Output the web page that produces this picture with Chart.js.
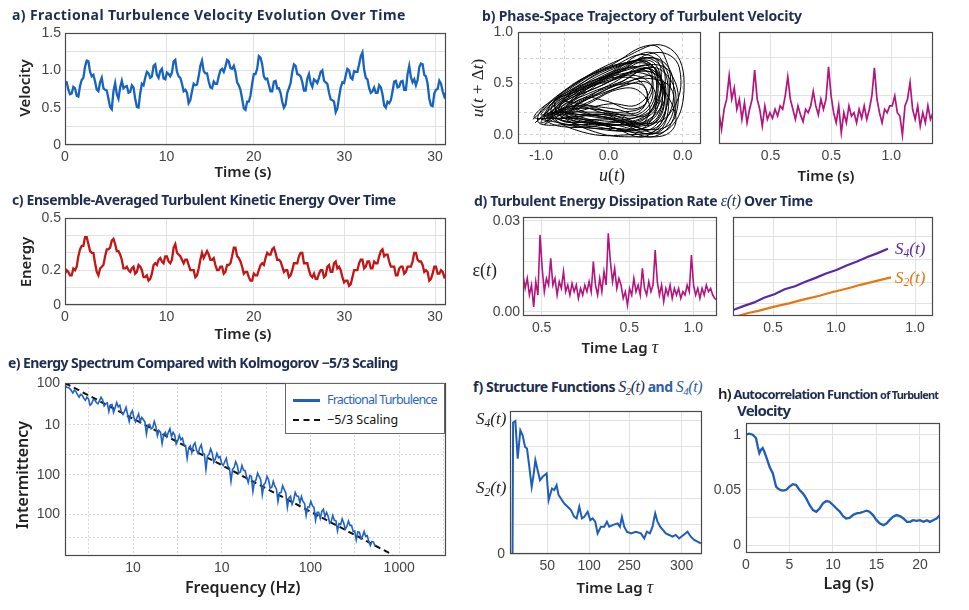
<!DOCTYPE html>
<html><head><meta charset="utf-8">
<script src="https://cdn.jsdelivr.net/npm/chart.js@4.4.1/dist/chart.umd.min.js"></script>
<style>
html,body{margin:0;padding:0;background:#fff;}
#root{position:relative;width:969px;height:610px;overflow:hidden;font-family:"Noto Sans",sans-serif;}
canvas{position:absolute;}
.t{position:absolute;white-space:nowrap;line-height:20px;height:20px;}
.m{font-family:"Liberation Serif","DejaVu Serif",serif;font-style:italic;}
.m sub{font-size:0.68em;vertical-align:-0.25em;line-height:0;}
</style></head><body><div id="root"></div>
<script>
// ---------------- DATA ----------------
// a) velocity time series (time 0..31.5 s)
const velocity = [0.85,0.84,0.74,0.68,0.69,0.78,0.76,0.66,0.65,0.79,0.87,0.90,1.05,1.13,1.12,0.98,0.92,0.94,0.85,0.74,0.72,0.84,0.90,0.76,0.74,0.73,0.62,0.51,0.48,0.72,0.83,0.68,0.62,0.77,0.86,0.76,0.78,0.79,0.70,0.71,0.80,0.77,0.62,0.51,0.50,0.69,0.82,0.80,0.90,0.98,0.96,0.90,0.92,1.06,1.08,0.94,0.90,0.99,1.02,0.89,0.88,0.97,0.95,0.92,0.97,1.12,1.14,0.98,0.92,0.90,0.82,0.72,0.74,0.70,0.56,0.60,0.72,0.82,0.80,0.81,0.92,1.06,1.13,0.99,0.96,0.96,0.85,0.77,0.76,0.85,0.82,0.82,0.92,1.00,1.02,0.98,1.05,1.14,1.12,1.03,1.02,1.06,0.98,0.84,0.80,0.74,0.62,0.49,0.47,0.58,0.58,0.66,0.82,0.95,0.95,1.02,1.19,1.17,1.08,0.92,0.88,0.89,0.80,0.72,0.72,0.85,0.86,0.76,0.76,0.70,0.58,0.50,0.54,0.70,0.76,0.83,0.98,1.08,1.06,0.95,0.94,0.92,0.84,0.73,0.73,0.89,0.95,0.83,0.78,0.88,0.86,0.83,0.90,0.98,1.00,0.86,0.84,0.82,0.70,0.61,0.60,0.58,0.44,0.49,0.64,0.77,0.84,0.83,0.93,1.02,1.00,0.90,0.88,0.99,0.98,0.98,1.08,1.19,1.24,1.01,0.90,0.88,0.76,0.70,0.72,0.77,0.70,0.70,0.80,0.77,0.68,0.53,0.50,0.58,0.56,0.60,0.72,0.85,0.86,0.77,0.78,0.85,0.86,0.74,0.74,0.95,1.06,0.91,0.84,0.88,0.80,0.87,1.04,1.09,1.08,0.94,0.92,0.82,0.62,0.53,0.52,0.69,0.74,0.75,0.86,0.82,0.72,0.65,0.70];
// c) energy time series
const energy = [0.18,0.20,0.19,0.17,0.17,0.21,0.20,0.22,0.28,0.32,0.34,0.34,0.39,0.39,0.35,0.31,0.30,0.30,0.24,0.19,0.17,0.21,0.22,0.23,0.28,0.32,0.32,0.33,0.37,0.38,0.35,0.31,0.31,0.29,0.26,0.21,0.21,0.22,0.20,0.19,0.21,0.22,0.18,0.19,0.23,0.22,0.20,0.16,0.16,0.17,0.14,0.15,0.18,0.23,0.24,0.23,0.26,0.27,0.25,0.24,0.28,0.28,0.25,0.24,0.26,0.33,0.35,0.30,0.29,0.28,0.26,0.24,0.26,0.26,0.23,0.20,0.20,0.20,0.16,0.17,0.21,0.26,0.30,0.27,0.29,0.31,0.29,0.26,0.26,0.27,0.23,0.20,0.20,0.22,0.22,0.18,0.19,0.23,0.23,0.24,0.28,0.33,0.33,0.28,0.27,0.25,0.22,0.18,0.19,0.19,0.16,0.14,0.14,0.18,0.17,0.17,0.20,0.23,0.24,0.23,0.27,0.30,0.29,0.29,0.32,0.33,0.30,0.26,0.26,0.25,0.22,0.19,0.20,0.20,0.16,0.17,0.20,0.24,0.24,0.24,0.28,0.30,0.30,0.24,0.24,0.24,0.20,0.17,0.16,0.18,0.15,0.15,0.18,0.20,0.20,0.16,0.17,0.22,0.23,0.19,0.19,0.24,0.25,0.21,0.22,0.20,0.16,0.13,0.14,0.14,0.11,0.12,0.16,0.20,0.20,0.20,0.24,0.26,0.26,0.21,0.22,0.25,0.25,0.21,0.21,0.25,0.24,0.24,0.28,0.31,0.32,0.28,0.29,0.29,0.25,0.22,0.22,0.22,0.17,0.17,0.21,0.22,0.22,0.18,0.19,0.22,0.22,0.22,0.25,0.30,0.30,0.26,0.25,0.25,0.23,0.19,0.20,0.19,0.14,0.15,0.18,0.22,0.22,0.18,0.18,0.20,0.19,0.16,0.17];
const timeSpan = 31.5;
const timeTickPos = [0, 8.4, 15.6, 23.1, 30.6];
const timeTickLabels = ["0","10","20","30","30"];

// b) phase-space trajectory [u(t), u(t+dt)]
const phaseTrajectory = [
[-1.12,0.15],[-0.6,0.45],[0.2,0.74],[0.85,0.86],[1.12,0.5],[0.85,0.04],[0.2,0.1],[-0.7,0.08],
[-0.95,0.2],[-0.4,0.5],[0.3,0.7],[0.75,0.72],[0.9,0.4],[0.7,0.02],[0.0,0.15],[-0.6,0.12],
[-0.8,0.22],[-0.3,0.45],[0.2,0.62],[0.6,0.7],[0.8,0.35],[0.5,0.1],[-0.1,0.2],[-0.6,0.18],
[-0.6,0.3],[-0.2,0.5],[0.2,0.56],[0.5,0.5],[0.55,0.3],[0.2,0.22],[-0.2,0.25],[-0.5,0.25],
[-1.0,0.12],[-0.5,0.4],[0.1,0.6],[0.65,0.75],[0.95,0.55],[0.8,0.1],[0.3,0.0],[-0.5,0.05],
[-0.85,0.25],[-0.35,0.55],[0.25,0.7],[0.7,0.68],[0.7,0.3],[0.3,0.15],[-0.3,0.15],[-0.7,0.2],
[-0.7,0.3],[-0.2,0.45],[0.4,0.62],[0.8,0.62],[1.0,0.3],[0.75,0.0],[0.2,0.05],[-0.4,0.15],
[-0.9,0.18],[-0.5,0.35],[-0.1,0.55],[0.45,0.72],[0.65,0.55],[0.45,0.3],[0.0,0.3],[-0.5,0.22],
[-0.75,0.2],[-0.3,0.38],[0.15,0.5],[0.55,0.62],[0.85,0.45],[0.6,0.15],[0.1,0.12],[-0.45,0.1],
[-1.05,0.14],[-0.55,0.48],[0.05,0.66],[0.55,0.78],[0.78,0.62],[0.6,0.2],[0.1,0.25],[-0.4,0.3],
[-0.65,0.35],[-0.25,0.52],[0.3,0.65],[0.62,0.58],[0.6,0.35],[0.35,0.25],[-0.05,0.33],[-0.4,0.35],
[-0.95,0.1],[-0.45,0.3],[0.0,0.48],[0.5,0.6],[0.9,0.35],[0.95,0.05],[0.45,-0.02],[-0.3,0.05],
[-0.8,0.28],[-0.4,0.42],[0.1,0.58],[0.7,0.8],[1.05,0.65],[0.9,0.2],[0.4,0.1],[-0.2,0.12],
[-0.7,0.15],[-0.3,0.3],[0.2,0.45],[0.5,0.4],[0.6,0.2],[0.3,0.05],[-0.2,0.08],[-0.55,0.12],
[-0.9,0.22],[-0.45,0.5],[0.15,0.68],[0.6,0.7],[0.72,0.45],[0.55,0.08],[0.05,0.1],[-0.6,0.15],
[-0.78,0.26],[-0.3,0.48],[0.25,0.6],[0.68,0.62],[0.85,0.25],[0.62,0.05],[0.1,0.18],[-0.5,0.2],
[-0.6,0.22],[-0.15,0.4],[0.3,0.52],[0.7,0.55],[0.75,0.2],[0.4,0.08],[-0.1,0.18],[-0.85,0.16],
[-1.1,0.18],[-0.65,0.4],[0.0,0.58],[0.5,0.66],[0.8,0.5],[0.7,0.12],[0.2,0.15],[-0.35,0.22],
[-0.55,0.32],[-0.1,0.48],[0.35,0.58],[0.65,0.45],[0.5,0.22],[0.1,0.2],[-0.3,0.28],[-0.75,0.24],
[-0.92,0.16],[-0.4,0.38],[0.2,0.65],[0.62,0.74],[0.88,0.48],[0.68,0.08],[0.15,0.06],[-0.65,0.1],
[-0.85,0.2],[-0.45,0.42],[0.05,0.6],[0.55,0.8],[0.8,0.7],[0.75,0.3],[0.35,0.12],[-0.3,0.12],
[-0.7,0.25],[-0.3,0.4],[0.2,0.52],[0.6,0.64],[0.7,0.4],[0.45,0.18],[0.0,0.2],[-0.5,0.28],
[-0.95,0.18],[-0.5,0.45],[0.1,0.7],[0.6,0.87],[0.82,0.78],[0.9,0.4],[0.6,0.0],[0.0,0.08],
[-0.6,0.18],[-0.2,0.35],[0.25,0.48],[0.6,0.5],[0.68,0.3],[0.4,0.14],[-0.05,0.16],[-0.75,0.22],
[-1.0,0.2],[-0.55,0.42],[-0.05,0.52],[0.45,0.62],[0.75,0.55],[0.8,0.25],[0.5,0.06],[-0.1,0.1],
[-0.8,0.3],[-0.35,0.45],[0.15,0.55],[0.55,0.68],[0.92,0.6],[1.0,0.2],[0.7,0.05],[0.1,0.15],
[-0.5,0.26],[-0.1,0.42],[0.3,0.5],[0.55,0.45],[0.5,0.25],[0.2,0.2],[-0.2,0.22],[-0.88,0.2],
[-1.08,0.12],[-0.6,0.38],[0.0,0.62],[0.5,0.7],[0.72,0.6],[0.62,0.22],[0.25,0.1],[-0.45,0.18],
[-0.72,0.28],[-0.28,0.5],[0.22,0.62],[0.65,0.66],[0.78,0.45],[0.55,0.12],[0.05,0.22],[-0.6,0.25],
[-0.9,0.15],[-0.4,0.32],[0.1,0.45],[0.55,0.55],[0.95,0.42],[0.8,0.05],[0.3,0.03],[-0.4,0.08],
[-1.0,0.15]];
const phaseXTicks = [-1.0, -0.65, 0.0, 0.46, 1.1];
const phaseXLabels = ["-1.0","","0.0","","0.0"];
const phaseYTicks = [0, 0.22, 0.5, 0.74, 1.0];
const phaseYLabels = ["0.0","","0.5","","1.0"];
// b) right: velocity signal
const signalB = [0.28,0.13,0.31,0.40,0.61,0.40,0.50,0.31,0.40,0.22,0.37,0.19,0.31,0.40,0.66,0.40,0.31,0.16,0.34,0.22,0.28,0.23,0.31,0.25,0.34,0.31,0.43,0.60,0.40,0.31,0.22,0.34,0.26,0.20,0.31,0.28,0.34,0.47,0.34,0.26,0.40,0.31,0.40,0.69,0.43,0.28,0.19,0.34,0.10,0.28,0.19,0.34,0.25,0.28,0.19,0.31,0.23,0.34,0.22,0.31,0.43,0.68,0.40,0.28,0.19,0.31,0.28,0.34,0.34,0.43,0.28,0.25,0.08,0.34,0.40,0.55,0.31,0.22,0.34,0.16,0.28,0.19,0.34,0.22,0.28];
const signalBTicks = [0.241, 0.525, 0.805];
const signalBLabels = ["0.5","0.5","1.0"];

// d) dissipation rate
const epsilon = [0.0121,0.0077,0.011,0.0055,0.0088,0.0016,0.0099,0.0055,0.0253,0.0143,0.0066,0.011,0.0088,0.0176,0.0088,0.011,0.0055,0.0099,0.0077,0.0132,0.0066,0.0088,0.0055,0.0093,0.0066,0.0088,0.0044,0.0077,0.0055,0.0088,0.0066,0.0099,0.0066,0.0165,0.0088,0.0055,0.011,0.0066,0.0132,0.0088,0.0258,0.0165,0.0099,0.0143,0.0077,0.011,0.0088,0.0044,0.0066,0.0022,0.0077,0.0055,0.011,0.0066,0.0088,0.0055,0.0143,0.0077,0.0055,0.0099,0.0066,0.0088,0.0203,0.0099,0.0055,0.0088,0.0033,0.0077,0.0055,0.0088,0.0044,0.0077,0.0055,0.0077,0.0044,0.0066,0.0055,0.0088,0.0066,0.0187,0.0088,0.0055,0.0077,0.0044,0.0077,0.0055,0.0088,0.0066,0.0077,0.0055,0.0044,0.0038];
const epsXTicks = [0.096, 0.548, 0.878];
const epsXLabels = ["0.5","0.5","1.0"];
const epsYTicks = [0, 0.0097, 0.0165, 0.024, 0.03];
const epsYLabels = ["0.00","","","","0.03"];
// d) right: S4, S2 growth
const s4Lag = [0,0.052,0.103,0.155,0.207,0.258,0.31,0.362,0.413,0.465,0.517,0.568,0.62,0.672,0.723,0.775];
const s4Val = [0.06,0.10,0.135,0.185,0.22,0.27,0.30,0.345,0.385,0.43,0.465,0.51,0.55,0.595,0.635,0.68];
const s2Lag = [0.025,0.076,0.127,0.178,0.229,0.28,0.331,0.382,0.433,0.484,0.535,0.586,0.637,0.688,0.739,0.79];
const s2Val = [0.0,0.03,0.052,0.08,0.105,0.128,0.155,0.18,0.205,0.235,0.26,0.285,0.315,0.34,0.365,0.39];
const sXTicks = [0.2, 0.515, 0.91];
const sXLabels = ["0.5","1.0","1.0"];
const sYTicks = [0.13, 0.34, 0.57, 0.8];

// e) energy spectrum
const spectrum = [89,70,69,64,54,44,55,50,38,31,39,36,28,24,31,27,16,18,25,25,20,18,23,31,25,15,18,19.6,9.5,16.5,17,8.9,13,20,14,15.8,9.1,7.5,9.6,13.4,7.3,4.2,8.0,10.2,5.8,4.1,5.8,7.8,4.1,5.8,4.9,4.1,1.5,3.1,3.3,2.3,2.5,4.2,2.8,1.3,2.0,1.7,0.67,1.4,1.7,1.2,1.7,2.3,1.2,1.7,1.4,0.66,0.86,1.33,0.92,1.05,0.61,0.56,0.20,0.47,0.56,0.32,0.59,0.72,0.39,0.30,0.47,0.61,0.31,0.28,0.080,0.24,0.28,0.44,0.31,0.146,0.19,0.30,0.21,0.23,0.13,0.11,0.15,0.20,0.105,0.09,0.030,0.08,0.094,0.15,0.11,0.059,0.064,0.11,0.074,0.073,0.042,0.027,0.048,0.045,0.013,0.029,0.034,0.059,0.045,0.034,0.0099,0.023,0.027,0.045,0.034,0.017,0.018,0.030,0.020,0.016,0.0056,0.0115,0.012,0.021,0.015,0.0115,0.0035,0.0077,0.0088,0.0045,0.0064,0.012,0.0089,0.0087,0.0051,0.0085,0.0056,0.0048,0.0018,0.0036,0.0036,0.0057,0.0040,0.0035,0.0012,0.0023,0.0023,0.0014,0.0025,0.0030,0.0016,0.0023,0.0017,0.00096,0.0011,0.0018,0.0012,0.00116,0.00050,0.00091,0.00084,0.00135,0.00096,0.00058,0.00072,0.00113,0.00079,0.00079,0.00047,0.00050,0.00024,0.00046,0.00045,0.00027,0.00032,0.00048,0.00032,0.00034,0.00021,0.00015,0.00021,0.00020,0.00014];
const specFreqMinLog = 0.233, specFreqMaxLog = 3.728;
const kolmoFreq = [1.71, 8500];
const kolmoVal = [100, 6.9e-5];
const specXTicks = [3.162,10,31.62,100,316.2,1000,3162,10000,31623];
const specXLabels = ["","10","","10","","100","","1000",""];
const specYTicks = [0.00028,0.002,0.0505,0.263,3.13,100];
const specYLabels = ["","100","100","","10","100"];

// f) structure function
const structLag = [4.5,5.5,9.5,13.6,18.3,22.4,26.6,30.1,34.2,38.4,41.3,44.9,49,53.1,57.8,64.9,68.4,74.3,78.4,82.5,86.1,90.2,96.1,102,107.9,113.8,118,122.7,127.4,131.6,137.5,142.2,146.3,151,155.1,161,166.9,171.6,175.7,181.6,190.5,194.6,198.2,202.3,207,214.1,222.9,231.8,237.7,242.4,247.7,252.4,257.1,261.2,265.9,271.2,275.9,281.8,287.7,293.6,299.5,314.3,320.2,326.1,332,338];
const structVal = [0,0.92,0.93,0.667,0.865,0.83,0.749,0.737,0.609,0.47,0.54,0.656,0.586,0.516,0.54,0.563,0.377,0.458,0.447,0.481,0.412,0.388,0.353,0.33,0.307,0.26,0.249,0.33,0.249,0.26,0.295,0.237,0.249,0.226,0.144,0.191,0.191,0.226,0.191,0.202,0.214,0.191,0.26,0.191,0.156,0.144,0.156,0.144,0.109,0.156,0.144,0.191,0.284,0.226,0.191,0.167,0.144,0.133,0.121,0.133,0.109,0.156,0.121,0.098,0.086,0.074];
const structXTicks = [66, 140, 211, 304];
const structXLabels = ["50","100","250","300"];
const structYTicks = [0, 0.207, 0.389, 0.575, 0.755, 0.937];

// h) autocorrelation
const acfLag = [0,0.38,0.77,1.15,1.35,1.54,1.73,1.92,2.1,2.3,2.5,2.7,2.88,3.08,3.27,3.46,3.65,3.92,4.23,4.6,5.0,5.38,5.77,6.15,6.54,6.92,7.3,7.7,8.08,8.46,8.85,9.23,9.6,10,10.4,10.8,11.15,11.5,11.9,12.3,12.7,13.1,13.5,13.85,14.2,14.6,15,15.4,15.8,16.15,16.5,16.9,17.3,17.7,18.1,18.5,18.85,19.2,19.6,20,20.4,20.8,21.15,21.5,21.9,22.3];
const acfVal = [1.0,1.01,1.0,0.97,0.894,0.833,0.864,0.879,0.848,0.803,0.758,0.712,0.682,0.652,0.59,0.53,0.515,0.5,0.494,0.5,0.53,0.552,0.545,0.5,0.47,0.424,0.364,0.318,0.303,0.333,0.379,0.4,0.394,0.364,0.333,0.303,0.264,0.242,0.248,0.273,0.288,0.294,0.303,0.312,0.303,0.273,0.227,0.197,0.182,0.197,0.227,0.258,0.273,0.264,0.242,0.212,0.212,0.227,0.221,0.227,0.212,0.227,0.212,0.227,0.242,0.273];
const acfYTicks = [0,0.25,0.5,0.75,1];
const acfYLabels = ["0","","0.05","","1"];

// ---------------- RENDER ----------------
const root = document.getElementById('root');
const YW = 44, PT = 14, PR = 14, XH = 26;
const framePlugin = { id:'frame', afterDraw(chart){ const {ctx, chartArea:a} = chart; ctx.save(); ctx.strokeStyle='#4a4a4a'; ctx.lineWidth=1.2; ctx.strokeRect(Math.round(a.left)+0.5, Math.round(a.top)+0.5, Math.round(a.right-a.left)-1, Math.round(a.bottom-a.top)-1); ctx.restore(); } };

function axis(s, dir){
  return {
    type: s.type || 'linear', min: s.min, max: s.max,
    afterBuildTicks: sc => { sc.ticks = s.ticks.map(v => ({value:v})); },
    afterFit: sc => { if (dir==='x') sc.height = XH; else sc.width = YW; },
    ticks: { autoSkip:false, maxRotation:0, padding: dir==='x' ? 4 : (s.pad||5), color:'#444',
      font:{family:'"Liberation Sans", Arial, sans-serif', size:14},
      callback: (v,i) => (s.labels && s.labels[i] !== undefined) ? s.labels[i] : '' },
    grid: { color: s.grid || '#e2e2e2', drawTicks:false, lineWidth:1 },
    border: { display:false, dash: s.dash || [] }
  };
}
function mk(box, datasets, xs, ys){
  const c = document.createElement('canvas');
  const W = box.r - box.l + YW + PR, H = box.b - box.t + PT + XH;
  c.width = W; c.height = H;
  c.style.left = (box.l - YW) + 'px'; c.style.top = (box.t - PT) + 'px';
  c.style.width = W + 'px'; c.style.height = H + 'px';
  root.appendChild(c);
  return new Chart(c, { type:'scatter', data:{datasets},
    options:{ responsive:false, animation:false, events:[],
      layout:{padding:{top:PT,right:PR,left:0,bottom:0}},
      plugins:{legend:{display:false}, tooltip:{enabled:false}},
      scales:{ x: axis(xs,'x'), y: axis(ys,'y') } },
    plugins:[framePlugin] });
}
function line(data, color, width, extra){
  return Object.assign({data, borderColor:color, backgroundColor:color, borderWidth:width, pointRadius:0, showLine:true, tension:0, fill:false}, extra||{});
}

// a
mk({l:65,t:33,r:446,b:145},
  [line(velocity.map((v,i)=>({x:i*timeSpan/(velocity.length-1), y:v})), '#1763c0', 2.3)],
  {min:0, max:timeSpan, ticks:timeTickPos, labels:timeTickLabels},
  {min:0, max:1.5, ticks:[0,0.25,0.5,0.75,1,1.25,1.5], labels:["0","","0.5","","1.0","","1.5"], pad:4});
// b left
mk({l:518,t:32,r:701,b:144},
  [line(phaseTrajectory.map(p=>({x:p[0], y:p[1]})), '#000', 1.0, {tension:0.45})],
  {min:-1.34, max:1.37, ticks:phaseXTicks, labels:phaseXLabels, grid:'#cfcfcf', dash:[3,3]},
  {min:-0.09, max:1.0, ticks:phaseYTicks, labels:phaseYLabels, grid:'#cfcfcf', dash:[3,3]});
// b right
mk({l:719,t:32,r:933,b:144},
  [line(signalB.map((v,i)=>({x:i/(signalB.length-1), y:v})), '#b3157d', 1.7)],
  {min:0, max:1, ticks:signalBTicks, labels:signalBLabels},
  {min:0, max:1, ticks:[0.43,0.77], labels:["",""]});
// c
mk({l:65,t:218,r:446,b:305},
  [line(energy.map((v,i)=>({x:i*timeSpan/(energy.length-1), y:v})), '#c41414', 2.3)],
  {min:0, max:timeSpan, ticks:timeTickPos, labels:timeTickLabels},
  {min:0, max:0.5, ticks:[0,0.1,0.2,0.3,0.4,0.5], labels:["0","","0.2","","","0.5"], pad:4});
// d left
mk({l:523,t:217,r:717,b:316},
  [line(epsilon.map((v,i)=>({x:i/(epsilon.length-1), y:v})), '#b3157d', 1.6)],
  {min:0, max:1, ticks:epsXTicks, labels:epsXLabels},
  {min:-0.0014, max:0.0312, ticks:epsYTicks, labels:epsYLabels, pad:3});
// d right
mk({l:733,t:217,r:933,b:316},
  [line(s4Lag.map((x,i)=>({x, y:s4Val[i]})), '#5a2aa5', 2.2),
   line(s2Lag.map((x,i)=>({x, y:s2Val[i]})), '#e8760f', 2.2)],
  {min:0, max:1, ticks:sXTicks, labels:sXLabels},
  {min:0, max:1, ticks:sYTicks, labels:["","","",""]});
// e
mk({l:65,t:383,r:446,b:556},
  [line(spectrum.map((v,i)=>({x:Math.pow(10, specFreqMinLog + i*(specFreqMaxLog-specFreqMinLog)/(spectrum.length-1)), y:v})), '#1f62c4', 1.6),
   line(kolmoFreq.map((x,i)=>({x, y:kolmoVal[i]})), '#111', 2, {borderDash:[6,4]})],
  {type:'logarithmic', min:1.71, max:33700, ticks:specXTicks, labels:specXLabels, grid:'#d6d6d6', dash:[2,2]},
  {type:'logarithmic', min:6.3e-5, max:100, ticks:specYTicks, labels:specYLabels, grid:'#d6d6d6', dash:[2,2]});
// f
mk({l:510,t:411,r:702,b:554},
  [line(structLag.map((x,i)=>({x, y:structVal[i]})), '#1f5db8', 2)],
  {min:0, max:340, ticks:structXTicks, labels:structXLabels},
  {min:0, max:1, ticks:structYTicks, labels:["0","","","","",""]});
// h
mk({l:746,t:423,r:940,b:553},
  [line(acfLag.map((x,i)=>({x, y:acfVal[i]})), '#1f5db8', 2.3)],
  {min:0, max:22.3, ticks:[0,5,10,15,20], labels:["0","5","10","15","20"]},
  {min:-0.07, max:1.106, ticks:acfYTicks, labels:acfYLabels});

// ---------------- TEXT ----------------
function txt(html, x, yc, style, mode, target){
  const d = document.createElement('div'); d.className = 't'; d.innerHTML = html;
  Object.assign(d.style, style || {});
  root.appendChild(d);
  if (target){
    const n = Math.max(1, d.textContent.length - 1);
    const ls = Math.max(-0.8, Math.min(1.5, (target - d.offsetWidth)/n));
    d.style.letterSpacing = ls + 'px';
  }
  const w = d.offsetWidth;
  d.style.top = (yc - 10) + 'px';
  d.style.left = ((mode==='c' || mode==='r') ? x - w/2 : x) + 'px';
  if (mode==='r') d.style.transform = 'rotate(-90deg)';
  return d;
}
const TS = {fontWeight:'700', fontSize:'14px', color:'#1e2d50'};
const AX = {fontWeight:'600', fontSize:'15px', color:'#222'};
txt('a) Fractional Turbulence Velocity Evolution Over Time', 12, 15, TS, 'l', 393);
txt('b) Phase-Space Trajectory of Turbulent Velocity', 482, 16, TS, 'l', 320);
txt('c) Ensemble-Averaged Turbulent Kinetic Energy Over Time', 12, 200, TS, 'l', 384);
txt('d) Turbulent Energy Dissipation Rate <span class="m" style="font-weight:400;font-size:16px">ε(t)</span> Over Time', 474, 201, TS, 'l', 339);
txt('e) Energy Spectrum Compared with Kolmogorov −5/3 Scaling', 8, 363, TS, 'l', 390);
txt('f) Structure Functions <span class="m" style="font-weight:400;font-size:16px">S<sub>2</sub>(t)</span> <span style="color:#2f5fa8">and <span class="m" style="font-weight:400;font-size:16px">S<sub>4</sub>(t)</span></span>', 473, 387, TS, 'l', 230);
txt('<span style="font-size:15px;font-weight:600;color:#222">h)</span> Autocorrelation Function <span style="font-size:11px">of Turbulent</span>', 718, 393, {fontWeight:'700', fontSize:'13px', color:'#1e2d50'}, 'l', 221);
txt('Velocity', 737, 410, {fontWeight:'700', fontSize:'15px', color:'#1e2d50'}, 'l', 48);

txt('Velocity', 24, 88, AX, 'r');
txt('Time (s)', 243, 171, AX, 'c');
txt('Energy', 25, 262, AX, 'r');
txt('Time (s)', 243, 333, AX, 'c');
txt('<span class="m">u</span>(<span class="m">t</span> + Δ<span class="m">t</span>)', 478, 88, {fontFamily:'"Liberation Serif",serif', fontSize:'17px', color:'#222'}, 'r');
txt('<span class="m">u</span>(<span class="m">t</span>)', 612, 175, {fontFamily:'"Liberation Serif",serif', fontSize:'18px', color:'#222'}, 'c');
txt('Time (s)', 826, 175, AX, 'c');
txt('ε(<span class="m">t</span>)', 485, 270, {fontFamily:'"Liberation Serif",serif', fontSize:'18px', color:'#222'}, 'c');
txt('Time Lag <span class="m" style="font-size:18px;font-weight:400">τ</span>', 620, 347, AX, 'c');
txt('<span class="m">S<sub>4</sub>(t)</span>', 910, 248, {fontSize:'17px', color:'#5a2aa5'}, 'c');
txt('<span class="m">S<sub>2</sub>(t)</span>', 910, 277, {fontSize:'17px', color:'#e8760f'}, 'c');
txt('Intermittency', 22, 475, {fontWeight:'600', fontSize:'16px', color:'#222'}, 'r');
txt('Frequency (Hz)', 243, 587, {fontWeight:'600', fontSize:'16px', color:'#222'}, 'c');
txt('<span class="m">S<sub>4</sub>(t)</span>', 491, 418, {fontSize:'17px', color:'#222'}, 'c');
txt('<span class="m">S<sub>2</sub>(t)</span>', 491, 487, {fontSize:'17px', color:'#222'}, 'c');
txt('Time Lag <span class="m" style="font-size:18px;font-weight:400">τ</span>', 615, 587, AX, 'c');
txt('Lag (s)', 849, 583, {fontWeight:'600', fontSize:'16px', color:'#222'}, 'c');

// legend for e
const lg = document.createElement('div');
Object.assign(lg.style, {position:'absolute', left:'285px', top:'383px', width:'160px', height:'51px', border:'1px solid #666', background:'#fff', boxSizing:'border-box'});
root.appendChild(lg);
const l1 = document.createElement('div');
Object.assign(l1.style, {position:'absolute', left:'293px', top:'399px', width:'27px', borderTop:'3px solid #1f5fbf'});
root.appendChild(l1);
const l2 = document.createElement('div');
Object.assign(l2.style, {position:'absolute', left:'293px', top:'419px', width:'27px', borderTop:'2.5px dashed #111'});
root.appendChild(l2);
txt('Fractional Turbulence', 327, 400, {fontSize:'12.5px', color:'#2a64c4'}, 'l', 110);
txt('−5/3 Scaling', 327, 420, {fontSize:'12.5px', color:'#111'}, 'l');
</script></body></html>
